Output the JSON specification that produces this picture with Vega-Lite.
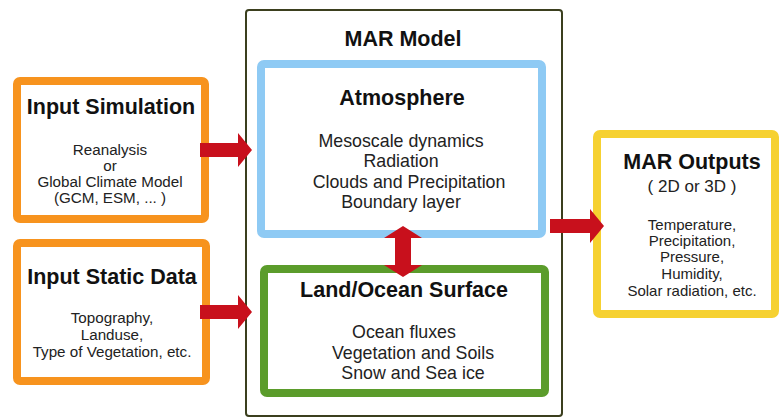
{
  "$schema": "https://vega.github.io/schema/vega-lite/v6.json",
  "width": 779,
  "height": 417,
  "autosize": {"type": "fit", "contains": "padding"},
  "padding": 0,
  "background": "white",
  "config": {"view": {"stroke": null}},
  "datasets": {
    "boxes": [
      {"id": "MAR Model", "x1": 246, "x2": 562, "y1": 10, "y2": 416, "color": "#3b3f1e", "sw": 2, "r": 0},
      {"id": "Input Simulation", "x1": 17, "x2": 205, "y1": 81, "y2": 219, "color": "#f7931e", "sw": 8, "r": 3},
      {"id": "Input Static Data", "x1": 17, "x2": 206, "y1": 243, "y2": 381, "color": "#f7931e", "sw": 8, "r": 3},
      {"id": "Atmosphere", "x1": 261, "x2": 542, "y1": 64, "y2": 234, "color": "#8ecaf4", "sw": 8, "r": 3},
      {"id": "Land/Ocean Surface", "x1": 264, "x2": 545, "y1": 269, "y2": 393, "color": "#5b9c2b", "sw": 8, "r": 3},
      {"id": "MAR Outputs", "x1": 597, "x2": 775, "y1": 134, "y2": 314, "color": "#f6d131", "sw": 8, "r": 3}
    ],
    "harrows": [
      {"id": "a1", "x": 200, "y": 143, "y2": 157},
      {"id": "a1", "x": 238, "y": 143, "y2": 157},
      {"id": "a1", "x": 238, "y": 133, "y2": 167},
      {"id": "a1", "x": 252, "y": 150, "y2": 150},
      {"id": "a2", "x": 200, "y": 305, "y2": 319},
      {"id": "a2", "x": 238, "y": 305, "y2": 319},
      {"id": "a2", "x": 238, "y": 295, "y2": 329},
      {"id": "a2", "x": 252, "y": 312, "y2": 312},
      {"id": "a3", "x": 550, "y": 219, "y2": 233},
      {"id": "a3", "x": 590, "y": 219, "y2": 233},
      {"id": "a3", "x": 590, "y": 209, "y2": 243},
      {"id": "a3", "x": 604, "y": 226, "y2": 226}
    ],
    "varrow": [
      {"id": "v", "y": 226, "x": 403, "x2": 403},
      {"id": "v", "y": 238, "x": 384, "x2": 422},
      {"id": "v", "y": 238, "x": 395, "x2": 411},
      {"id": "v", "y": 265, "x": 395, "x2": 411},
      {"id": "v", "y": 265, "x": 384, "x2": 422},
      {"id": "v", "y": 277, "x": 403, "x2": 403}
    ],
    "labels": [
      {"text": "MAR Model", "x": 403, "y": 40, "size": 21.5, "w": "bold"},
      {"text": "Input Simulation", "x": 111, "y": 108, "size": 21.5, "w": "bold"},
      {"text": "Reanalysis", "x": 110, "y": 150, "size": 15.2, "w": "normal"},
      {"text": "or", "x": 110, "y": 166, "size": 15.2, "w": "normal"},
      {"text": "Global Climate Model", "x": 110, "y": 182, "size": 15.2, "w": "normal"},
      {"text": "(GCM, ESM, ... )", "x": 110, "y": 198, "size": 15.2, "w": "normal"},
      {"text": "Input Static Data", "x": 112, "y": 278, "size": 21.5, "w": "bold"},
      {"text": "Topography,", "x": 112, "y": 318, "size": 15.2, "w": "normal"},
      {"text": "Landuse,", "x": 112, "y": 335, "size": 15.2, "w": "normal"},
      {"text": "Type of Vegetation, etc.", "x": 112, "y": 352, "size": 15.2, "w": "normal"},
      {"text": "Atmosphere", "x": 402, "y": 99, "size": 21.5, "w": "bold"},
      {"text": "Mesoscale dynamics", "x": 401, "y": 142, "size": 17.8, "w": "normal"},
      {"text": "Radiation", "x": 401, "y": 162, "size": 17.8, "w": "normal"},
      {"text": "Clouds and Precipitation", "x": 409, "y": 183, "size": 17.8, "w": "normal"},
      {"text": "Boundary layer", "x": 401, "y": 203, "size": 17.8, "w": "normal"},
      {"text": "Land/Ocean Surface", "x": 404, "y": 291, "size": 21.5, "w": "bold"},
      {"text": "Ocean fluxes", "x": 404, "y": 333, "size": 17.8, "w": "normal"},
      {"text": "Vegetation and Soils", "x": 413, "y": 354, "size": 17.8, "w": "normal"},
      {"text": "Snow and Sea ice", "x": 413, "y": 374, "size": 17.8, "w": "normal"},
      {"text": "MAR Outputs", "x": 692, "y": 163, "size": 21.5, "w": "bold"},
      {"text": "( 2D or 3D )", "x": 692, "y": 187, "size": 17, "w": "normal"},
      {"text": "Temperature,", "x": 692, "y": 225, "size": 15, "w": "normal"},
      {"text": "Precipitation,", "x": 692, "y": 241, "size": 15, "w": "normal"},
      {"text": "Pressure,", "x": 692, "y": 257, "size": 15, "w": "normal"},
      {"text": "Humidity,", "x": 692, "y": 274, "size": 15, "w": "normal"},
      {"text": "Solar radiation, etc.", "x": 692, "y": 291, "size": 15, "w": "normal"}
    ]
  },
  "layer": [
    {
      "data": {"name": "boxes"},
      "mark": {"type": "rect", "fill": "white", "cornerRadius": 3},
      "encoding": {
        "x": {"field": "x1", "type": "quantitative", "scale": {"domain": [0, 779]}, "axis": null},
        "x2": {"field": "x2"},
        "y": {"field": "y1", "type": "quantitative", "scale": {"domain": [417, 0]}, "axis": null},
        "y2": {"field": "y2"},
        "stroke": {"field": "color", "type": "nominal", "scale": null},
        "strokeWidth": {"field": "sw", "type": "quantitative", "scale": null}
      }
    },
    {
      "data": {"name": "harrows"},
      "mark": {"type": "area", "orient": "vertical", "color": "#c8101c", "interpolate": "linear"},
      "encoding": {
        "x": {"field": "x", "type": "quantitative", "scale": {"domain": [0, 779]}, "axis": null},
        "y": {"field": "y", "type": "quantitative", "scale": {"domain": [417, 0]}, "axis": null},
        "y2": {"field": "y2"},
        "detail": {"field": "id", "type": "nominal"}
      }
    },
    {
      "data": {"name": "varrow"},
      "mark": {"type": "area", "orient": "horizontal", "color": "#c8101c", "interpolate": "linear"},
      "encoding": {
        "y": {"field": "y", "type": "quantitative", "scale": {"domain": [417, 0]}, "axis": null},
        "x": {"field": "x", "type": "quantitative", "scale": {"domain": [0, 779]}, "axis": null},
        "x2": {"field": "x2"},
        "detail": {"field": "id", "type": "nominal"}
      }
    },
    {
      "data": {"name": "labels"},
      "transform": [{"filter": "datum.w == 'bold'"}],
      "mark": {"type": "text", "font": "Liberation Sans", "fontWeight": "bold", "color": "#111111", "align": "center", "baseline": "middle"},
      "encoding": {
        "x": {"field": "x", "type": "quantitative", "scale": {"domain": [0, 779]}, "axis": null},
        "y": {"field": "y", "type": "quantitative", "scale": {"domain": [417, 0]}, "axis": null},
        "text": {"field": "text"},
        "size": {"field": "size", "type": "quantitative", "scale": null}
      }
    },
    {
      "data": {"name": "labels"},
      "transform": [{"filter": "datum.w == 'normal'"}],
      "mark": {"type": "text", "font": "Liberation Sans", "color": "#222222", "align": "center", "baseline": "middle"},
      "encoding": {
        "x": {"field": "x", "type": "quantitative", "scale": {"domain": [0, 779]}, "axis": null},
        "y": {"field": "y", "type": "quantitative", "scale": {"domain": [417, 0]}, "axis": null},
        "text": {"field": "text"},
        "size": {"field": "size", "type": "quantitative", "scale": null}
      }
    }
  ]
}
